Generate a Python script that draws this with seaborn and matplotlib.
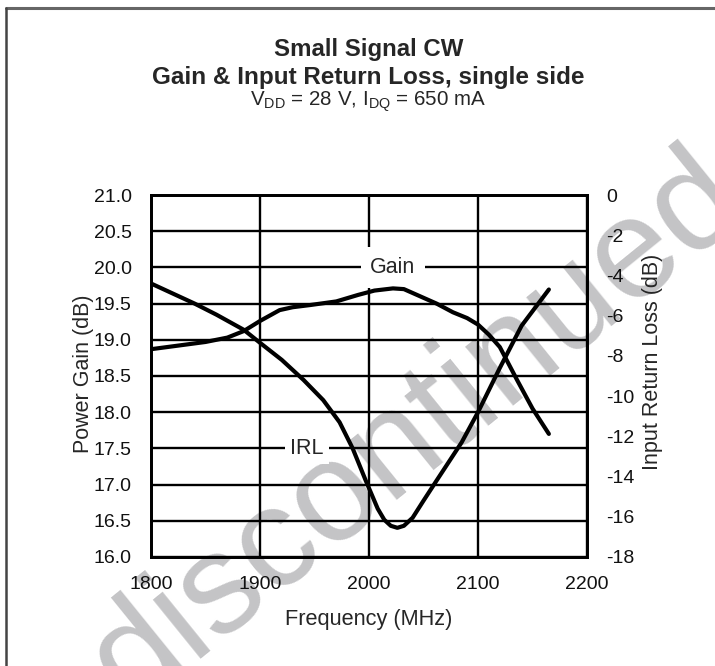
import matplotlib
matplotlib.use("Agg")
import matplotlib.pyplot as plt
from matplotlib.lines import Line2D
import seaborn as sns
import pandas as pd

# ---- data ----
gain_freq = [1800, 1825, 1850, 1870, 1885, 1900, 1918, 1930, 1946, 1970, 1990,
             2005, 2022, 2032, 2047, 2062, 2077, 2090, 2100, 2110, 2120, 2136,
             2150, 2165]
gain_db = [18.87, 18.92, 18.97, 19.03, 19.12, 19.26, 19.41, 19.45, 19.48, 19.53,
           19.62, 19.68, 19.71, 19.70, 19.60, 19.50, 19.38, 19.30, 19.21, 19.07,
           18.90, 18.44, 18.05, 17.70]

irl_freq = [1800, 1820, 1840, 1860, 1870, 1885, 1900, 1920, 1940, 1958, 1973,
            1985, 1997, 2008, 2014, 2020, 2026, 2032, 2040, 2050, 2062, 2085,
            2100, 2120, 2140, 2165]
irl_db = [-4.4, -4.9, -5.4, -5.95, -6.25, -6.7, -7.35, -8.2, -9.2, -10.2, -11.3,
          -12.6, -14.2, -15.6, -16.15, -16.45, -16.55, -16.45, -16.05, -15.2,
          -14.2, -12.3, -10.8, -8.6, -6.5, -4.7]

x_ticks = [1800, 1900, 2000, 2100, 2200]
gain_ticks = [16.0, 16.5, 17.0, 17.5, 18.0, 18.5, 19.0, 19.5, 20.0, 20.5, 21.0]
irl_ticks = [0, -2, -4, -6, -8, -10, -12, -14, -16, -18]

sns.set_style("white")
plt.rcParams['font.family'] = ['Liberation Sans', 'DejaVu Sans']
plt.rcParams['mathtext.fontset'] = 'custom'
plt.rcParams['mathtext.rm'] = 'Liberation Sans'

fig = plt.figure(figsize=(7.15, 6.66), dpi=100)
fig.patch.set_facecolor('white')

# watermark behind the chart
fig.text(0.583, 0.353, "discontinued", rotation=39, fontsize=102, color='#c4c4c6',
         ha='center', va='center', rotation_mode='anchor', zorder=-5,
         family=['Liberation Sans'])

# page border (top and left)
fig.add_artist(Line2D([0.008, 1.0], [0.988, 0.988], transform=fig.transFigure,
                      color='#666666', lw=2.2))
fig.add_artist(Line2D([0.008, 0.008], [0.0, 0.988], transform=fig.transFigure,
                      color='#444444', lw=1.8))

ax = fig.add_axes([0.2112, 0.1637, 0.6098, 0.5435])
ax.set_facecolor('none')
ax2 = ax.twinx()

gdf = pd.DataFrame({'Frequency': gain_freq, 'Gain': gain_db})
idf = pd.DataFrame({'Frequency': irl_freq, 'IRL': irl_db})

sns.lineplot(data=gdf, x='Frequency', y='Gain', ax=ax, color='black', lw=3.0,
             sort=False, estimator=None, zorder=5)
sns.lineplot(data=idf, x='Frequency', y='IRL', ax=ax2, color='black', lw=3.0,
             sort=False, estimator=None, zorder=5)

ax.set_xlim(1800, 2200)
ax.set_ylim(16.0, 21.0)
ax2.set_ylim(-18, 0)
ax.set_xticks(x_ticks)
ax.set_yticks(gain_ticks)
ax2.set_yticks(irl_ticks)
ax.set_xticklabels([str(t) for t in x_ticks])
ax.set_yticklabels([f"{t:.1f}" for t in gain_ticks])
ax2.set_yticklabels([str(t) for t in irl_ticks])

ax.grid(True, color='black', lw=1.7, zorder=1)
ax.set_axisbelow(True)
ax2.grid(False)

for a in (ax, ax2):
    for s in a.spines.values():
        s.set_color('black')
        s.set_linewidth(2.0)
    a.tick_params(length=0, labelsize=14, pad=14, colors='#111111')

ax.set_xlabel('Frequency (MHz)', fontsize=15.7)
ax.set_ylabel('Power Gain (dB)', fontsize=15.5)
ax2.set_ylabel('Input Return Loss (dB)', fontsize=15.5)
ax.xaxis.set_label_coords(0.5, -0.145)
ax.yaxis.set_label_coords(-0.131, 0.506)
ax2.yaxis.set_label_coords(1.126, 0.539)

# curve labels with white boxes over the grid
ax.text(2022, 20.0, 'Gain', fontsize=15.5, ha='center', va='center', zorder=3,
        bbox=dict(boxstyle='square,pad=0.45', fc='white', ec='none'))
ax.text(1943, 17.5, 'IRL', fontsize=15.5, ha='center', va='center', zorder=3,
        bbox=dict(boxstyle='square,pad=0.25', fc='white', ec='none'))

# titles
fig.text(0.515, 0.926, 'Small Signal CW', fontsize=17.3, fontweight='bold',
         ha='center', va='center')
fig.text(0.515, 0.884, 'Gain & Input Return Loss, single side', fontsize=17.5,
         fontweight='bold', ha='center', va='center')
fig.text(0.515, 0.847, r'V$_{\mathregular{DD}}$ = 28 V, I$_{\mathregular{DQ}}$ = 650 mA',
         fontsize=14.8, ha='center', va='center')

fig.savefig('out.png', dpi=100, facecolor='white')
